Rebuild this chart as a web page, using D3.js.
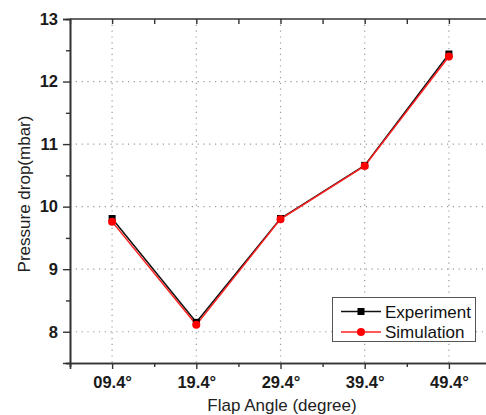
<!DOCTYPE html>
<html>
<head>
<meta charset="utf-8">
<script src="https://cdn.jsdelivr.net/npm/d3@7"></script>
<style>
  html, body { margin: 0; padding: 0; background: #fff; }
  svg { display: block; font-family: "Liberation Sans", Arial, sans-serif; }
</style>
</head>
<body>
<svg id="chart" width="486" height="415"></svg>
<script>
// Flap angles (degrees) and their axis labels
const angles = [9.4, 19.4, 29.4, 39.4, 49.4];
const angleLabels = ["09.4°", "19.4°", "29.4°", "39.4°", "49.4°"];

// Pressure drop (mbar)
const experiment = [9.81, 8.15, 9.81, 10.66, 12.44];
const simulation = [9.76, 8.11, 9.80, 10.65, 12.40];

const yTicks = [8, 9, 10, 11, 12, 13];
const yMinorTicks = [7.5, 8.5, 9.5, 10.5, 11.5, 12.5];
const xMinorTicks = [4.4, 14.4, 24.4, 34.4, 44.4, 54.4];

const svg = d3.select("#chart");
const plotLeft = 70, plotRight = 491, plotTop = 19, plotBottom = 363;

const x = d3.scaleLinear().domain([4.4, 54.4]).range([plotLeft, plotRight]);
const y = d3.scaleLinear().domain([7.5, 13]).range([plotBottom, plotTop]);

const axisColor = "#333";
const fontStack = "Liberation Sans, Arial, sans-serif";

// dotted grid at major ticks
const grid = svg.append("g").attr("stroke", "#9a9a9a").attr("stroke-width", 1.2)
  .attr("stroke-dasharray", "1.2,4.6");
grid.selectAll("line.gx").data(angles).join("line").attr("class", "gx")
  .attr("x1", d => x(d)).attr("x2", d => x(d))
  .attr("y1", plotTop).attr("y2", plotBottom);
grid.selectAll("line.gy").data(yTicks.filter(v => v < 13)).join("line").attr("class", "gy")
  .attr("x1", plotLeft).attr("x2", plotRight)
  .attr("y1", d => y(d)).attr("y2", d => y(d));

// axes
const xAxis = svg.append("g").attr("transform", `translate(0,${plotBottom})`)
  .call(d3.axisBottom(x).tickValues(angles).tickFormat(d => angleLabels[angles.indexOf(d)])
    .tickSize(6).tickPadding(7));
const xMinor = svg.append("g").attr("transform", `translate(0,${plotBottom})`)
  .call(d3.axisBottom(x).tickValues(xMinorTicks).tickFormat("").tickSize(4));

const yAxis = svg.append("g").attr("transform", `translate(${plotLeft},0)`)
  .call(d3.axisLeft(y).tickValues(yTicks).tickFormat(d3.format("d")).tickSize(7).tickPadding(5));
const yMinor = svg.append("g").attr("transform", `translate(${plotLeft},0)`)
  .call(d3.axisLeft(y).tickValues(yMinorTicks).tickFormat("").tickSize(4));

const xTop = svg.append("g").attr("transform", `translate(0,${plotTop})`)
  .call(d3.axisTop(x).tickValues(angles.concat(xMinorTicks)).tickFormat("").tickSize(-5));
const yRight = svg.append("g").attr("transform", `translate(${plotRight},0)`)
  .call(d3.axisRight(y).tickValues(yTicks).tickFormat("").tickSize(-5));

[xAxis, xMinor, yAxis, yMinor, xTop, yRight].forEach(g => {
  g.select(".domain").attr("stroke", axisColor).attr("stroke-width", 1.6);
  g.selectAll(".tick line").attr("stroke", axisColor).attr("stroke-width", 1.4);
});
xTop.select(".domain").attr("d", `M${plotLeft},0H${plotRight}`);
yRight.select(".domain").attr("d", `M0,${plotTop}V${plotBottom}`);

[xAxis, yAxis].forEach(g => g.selectAll(".tick text")
  .attr("font-size", 16.5).attr("font-weight", "bold")
  .attr("fill", "#1a1a1a").attr("font-family", fontStack));

// axis titles
svg.append("text").attr("x", 282).attr("y", 411).attr("text-anchor", "middle")
  .attr("font-size", 17).attr("fill", "#222").text("Flap Angle (degree)");
svg.append("text").attr("transform", "translate(30,194) rotate(-90)")
  .attr("text-anchor", "middle").attr("font-size", 17).attr("fill", "#222")
  .text("Pressure drop(mbar)");

// series
const line = d3.line().x((d, i) => x(angles[i])).y(d => y(d));
svg.append("path").datum(experiment).attr("d", line)
  .attr("fill", "none").attr("stroke", "#111").attr("stroke-width", 1.5);
svg.append("path").datum(simulation).attr("d", line)
  .attr("fill", "none").attr("stroke", "#ff2020").attr("stroke-width", 1.5);

svg.append("g").selectAll("rect").data(experiment).join("rect")
  .attr("x", (d, i) => x(angles[i]) - 3.5).attr("y", d => y(d) - 3.5)
  .attr("width", 7).attr("height", 7).attr("fill", "#000");
svg.append("g").selectAll("circle").data(simulation).join("circle")
  .attr("cx", (d, i) => x(angles[i])).attr("cy", d => y(d)).attr("r", 4)
  .attr("fill", "#ff0000");

// legend
const lg = svg.append("g");
lg.append("rect").attr("x", 332.5).attr("y", 297.5).attr("width", 143).attr("height", 44)
  .attr("fill", "#fff").attr("stroke", "#555").attr("stroke-width", 1);
const entries = [
  { name: "Experiment", color: "#111", marker: "square", yy: 311.5 },
  { name: "Simulation", color: "#ff2020", marker: "circle", yy: 332 }
];
entries.forEach(e => {
  lg.append("line").attr("x1", 341).attr("x2", 381).attr("y1", e.yy).attr("y2", e.yy)
    .attr("stroke", e.color).attr("stroke-width", 1.5);
  if (e.marker === "square") {
    lg.append("rect").attr("x", 357.5).attr("y", e.yy - 3.5).attr("width", 7).attr("height", 7).attr("fill", "#000");
  } else {
    lg.append("circle").attr("cx", 361).attr("cy", e.yy).attr("r", 4).attr("fill", "#ff0000");
  }
  lg.append("text").attr("x", 385).attr("y", e.yy + 6).attr("font-size", 17)
    .attr("fill", "#111").text(e.name);
});
</script>
</body>
</html>
